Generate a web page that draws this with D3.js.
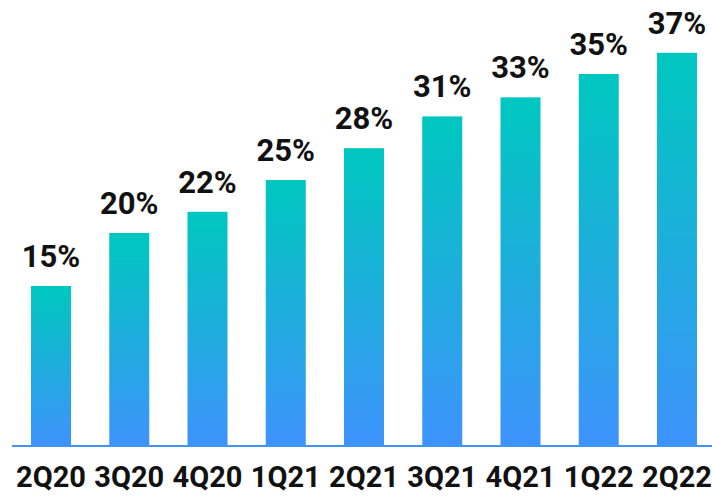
<!DOCTYPE html>
<html><head><meta charset="utf-8">
<script src="https://cdn.jsdelivr.net/npm/d3@7"></script>
<style>body{margin:0;background:#fff;}svg{display:block;}</style>
</head><body>
<script>
const categories = ["2Q20","3Q20","4Q20","1Q21","2Q21","3Q21","4Q21","1Q22","2Q22"];
const values = [15, 20, 22, 25, 28, 31, 32.8, 35, 37];
const labels = ["15%","20%","22%","25%","28%","31%","33%","35%","37%"];

const W = 712, H = 498;
const svg = d3.select("body").append("svg").attr("width", W).attr("height", H);

const defs = svg.append("defs");
const grad = defs.append("linearGradient").attr("id","barGrad")
  .attr("x1",0).attr("y1",0).attr("x2",0).attr("y2",1);
grad.append("stop").attr("offset","0").attr("stop-color","#00c6c0");
grad.append("stop").attr("offset","0.05").attr("stop-color","#02c5c1");
grad.append("stop").attr("offset","1").attr("stop-color","#3e93fc");

const x = d3.scaleBand().domain(categories).range([11.9, 716.1])
  .paddingInner(0.4888).paddingOuter(0.2444);
const y = d3.scaleLinear().domain([0, 40]).range([445, 21]);

svg.selectAll("rect.bar").data(values).enter().append("rect")
  .attr("class","bar")
  .attr("x",(d,i)=>x(categories[i]))
  .attr("width",x.bandwidth())
  .attr("y",d=>y(d))
  .attr("height",d=>y(0)-y(d))
  .attr("fill","url(#barGrad)");

svg.append("line").attr("x1",12).attr("x2",W).attr("y1",446).attr("y2",446)
  .attr("stroke","#3d95f5").attr("stroke-width",2);

svg.selectAll("text.val").data(values).enter().append("text")
  .attr("class","val")
  .attr("x",(d,i)=>x(categories[i])+x.bandwidth()/2)
  .attr("y",d=>y(d)-19)
  .attr("text-anchor","middle")
  .attr("font-family","Roboto, sans-serif").attr("font-weight","bold")
  .attr("font-size",31).attr("fill","#111")
  .text((d,i)=>labels[i]);

const xAxis = svg.append("g").attr("transform","translate(0,446)")
  .call(d3.axisBottom(x).tickSize(0).tickPadding(0));
xAxis.select(".domain").remove();
xAxis.selectAll("text")
  .attr("y",40.5).attr("dy",0)
  .attr("font-family","Roboto, sans-serif").attr("font-weight","bold")
  .attr("font-size",29).attr("fill","#111");
</script>
</body></html>
